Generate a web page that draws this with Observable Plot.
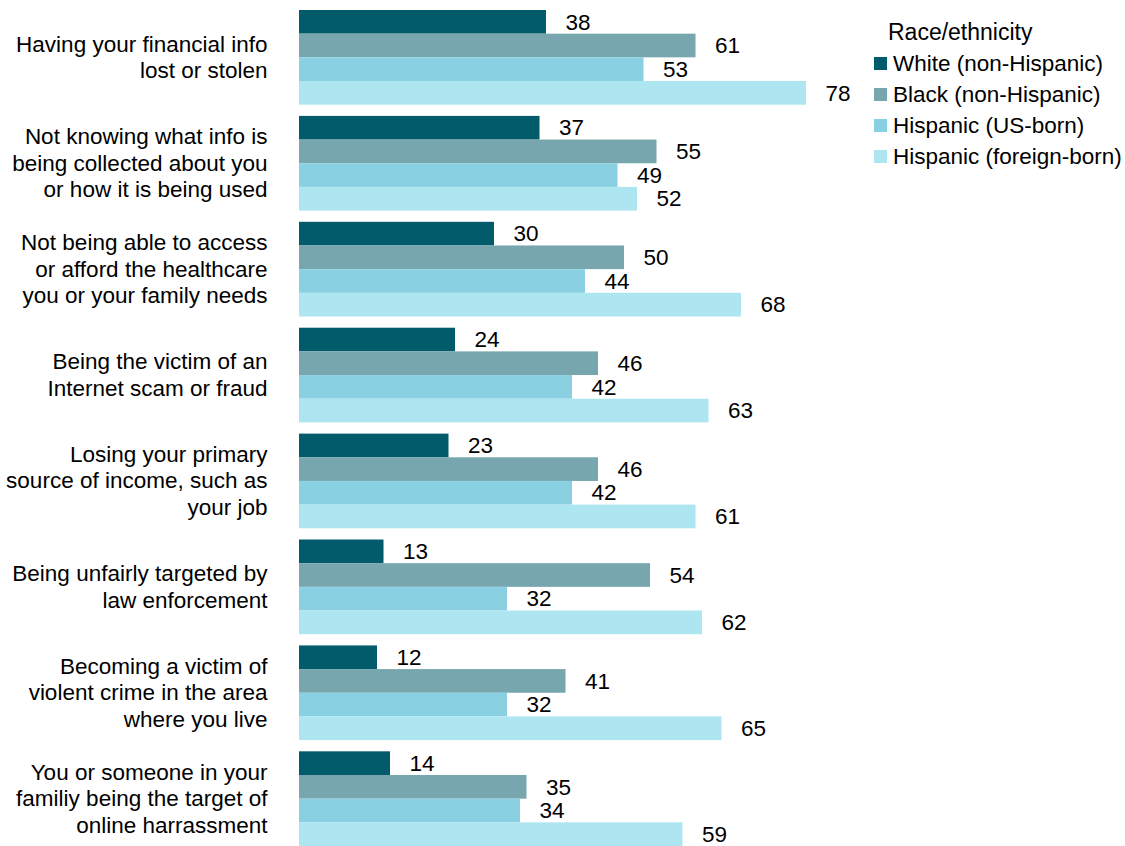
<!DOCTYPE html>
<html><head><meta charset="utf-8">
<script src="https://cdn.jsdelivr.net/npm/d3@7"></script>
<script src="https://cdn.jsdelivr.net/npm/@observablehq/plot@0.6"></script>
<style>
body{margin:0;background:#fff;}
#wrap{position:relative;width:1125px;height:846px;font-family:"Liberation Sans",Arial,sans-serif;color:#000;}
#legend{position:absolute;left:874px;top:17px;font-size:22.5px;}
#legend .title{margin-left:14px;height:31px;line-height:31px;font-weight:500;font-size:23px;}
#legend .row{display:flex;align-items:center;height:31px;}
#legend .sw{width:13px;height:13px;margin-right:6px;}
</style></head><body>
<div id="wrap"><div id="chart"></div><div id="legend"></div></div>
<script>
const categories = [
  "Having your financial info\nlost or stolen",
  "Not knowing what info is\nbeing collected about you\nor how it is being used",
  "Not being able to access\nor afford the healthcare\nyou or your family needs",
  "Being the victim of an\nInternet scam or fraud",
  "Losing your primary\nsource of income, such as\nyour job",
  "Being unfairly targeted by\nlaw enforcement",
  "Becoming a victim of\nviolent crime in the area\nwhere you live",
  "You or someone in your\nfamiliy being the target of\nonline harrassment"
];
const groups = ["White (non-Hispanic)", "Black (non-Hispanic)", "Hispanic (US-born)", "Hispanic (foreign-born)"];
const white = [38, 37, 30, 24, 23, 13, 12, 14];
const black = [61, 55, 50, 46, 46, 54, 41, 35];
const hispanicUS = [53, 49, 44, 42, 42, 32, 32, 34];
const hispanicForeign = [78, 52, 68, 63, 61, 62, 65, 59];
const colors = ["#015b6b", "#77a6ae", "#89d0e2", "#ade5f1"];

const series = [white, black, hispanicUS, hispanicForeign];
const data = [];
categories.forEach((c, i) => {
  groups.forEach((g, j) => data.push({category: c, group: g, value: series[j][i]}));
});

const font = '"Liberation Sans", Arial, sans-serif';
const chart = Plot.plot({
  width: 1125, height: 846,
  marginLeft: 299, marginRight: 176, marginTop: 10, marginBottom: 0,
  x: {domain: [0, 100], axis: null},
  fy: {domain: categories, paddingInner: 0.106, paddingOuter: 0, round: false, label: null},
  y: {domain: groups, padding: 0, round: false, axis: null},
  color: {domain: groups, range: colors},
  style: {fontFamily: font, fontSize: "22.5px", color: "#000", background: "#fff"},
  marks: [
    Plot.barX(data, {fy: "category", y: "group", x: "value", fill: "group"}),
    Plot.text(data, {fy: "category", y: "group", x: "value", text: d => String(d.value), dx: 19, textAnchor: "start", fill: "#000", fontSize: 22.5}),
    Plot.axisFy({anchor: "left", tickSize: 0, tickPadding: 32, fontSize: 22.5, lineHeight: 1.18, label: null, fill: "#000", dy: -1.5})
  ]
});
document.getElementById("chart").appendChild(chart);

const legend = document.getElementById("legend");
const t = document.createElement("div");
t.className = "title"; t.textContent = "Race/ethnicity";
legend.appendChild(t);
groups.forEach((g, i) => {
  const r = document.createElement("div"); r.className = "row";
  const s = document.createElement("div"); s.className = "sw"; s.style.background = colors[i];
  const l = document.createElement("span"); l.textContent = g;
  r.appendChild(s); r.appendChild(l); legend.appendChild(r);
});
</script>
</body></html>
